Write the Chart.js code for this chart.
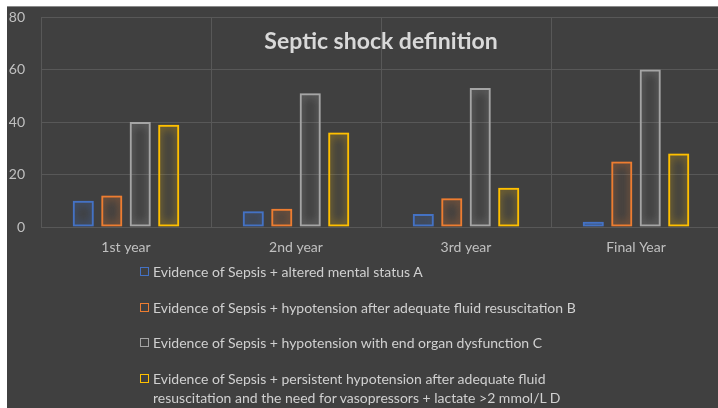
<!DOCTYPE html>
<html><head><meta charset="utf-8">
<script src="https://cdn.jsdelivr.net/npm/chart.js@4/dist/chart.umd.min.js"></script>
<style>
html,body{margin:0;padding:0;background:#fff;overflow:hidden;width:718px;height:408px;}
#bg{position:absolute;left:7px;top:6px;width:720px;height:410px;background:#404040;border-top:1px solid #8a8a8a;box-sizing:border-box;}
#c{position:absolute;left:7px;top:6px;}
#legend{position:absolute;left:140px;top:262px;font-family:Lato,sans-serif;font-size:14px;color:#d0d0d0;}
.item{position:relative;padding-left:13px;line-height:19px;margin-bottom:16.5px;white-space:nowrap;}
.box{position:absolute;left:0;top:5px;width:9px;height:9px;box-sizing:border-box;border:1.5px solid;}
</style></head>
<body>
<div id="bg"></div>
<canvas id="c" width="716" height="402"></canvas>
<div id="legend"></div>
<script>
const categories = ['1st year', '2nd year', '3rd year', 'Final Year'];
const seriesNames = [
  'Evidence of Sepsis + altered mental status A',
  'Evidence of Sepsis + hypotension after adequate fluid resuscitation B',
  'Evidence of Sepsis + hypotension with end organ dysfunction C',
  ['Evidence of Sepsis + persistent hypotension after adequate fluid', 'resuscitation and the need for vasopressors + lactate >2 mmol/L D']
];
const seriesA = [10, 6, 5, 2];
const seriesB = [12, 7, 11, 25];
const seriesC = [40, 51, 53, 60];
const seriesD = [39, 36, 15, 28];
const yTicks = [0, 20, 40, 60, 80];
const colors = ['#4472C4', '#ED7D31', '#A5A5A5', '#FFC000'];
const chartTitle = 'Septic shock definition';

const values = [seriesA, seriesB, seriesC, seriesD];
const datasets = values.map((v, i) => ({
  label: seriesNames[i],
  data: v,
  backgroundColor: 'rgba(0,0,0,0)',
  borderColor: colors[i],
  borderWidth: 2,
  borderSkipped: false,
  barPercentage: 0.74,
  categoryPercentage: 0.67
}));

const glow = {
  id: 'glow',
  beforeDatasetDraw(chart, args) {
    const ctx = chart.ctx;
    ctx.save();
    ctx.shadowColor = colors[args.index];
    ctx.shadowBlur = 10;
  },
  afterDatasetDraw(chart) { chart.ctx.restore(); }
};
const titlePlugin = {
  id: 'insideTitle',
  beforeDatasetsDraw(chart) {
    const ctx = chart.ctx, a = chart.chartArea;
    ctx.save();
    ctx.font = 'bold 23px Lato, sans-serif';
    ctx.fillStyle = '#d9d9d9';
    ctx.textAlign = 'center';
    ctx.textBaseline = 'middle';
    ctx.fillText(chartTitle, (a.left + a.right) / 2, 36);
    ctx.restore();
  }
};

new Chart(document.getElementById('c'), {
  type: 'bar',
  data: { labels: categories, datasets },
  options: {
    responsive: false,
    animation: false,
    layout: { padding: { top: 11, right: 2, left: 0, bottom: 0 } },
    plugins: { legend: { display: false }, title: { display: false }, tooltip: { enabled: false } },
    scales: {
      x: {
        grid: { color: '#585858', drawTicks: false, offset: true },
        border: { display: false },
        ticks: { color: '#c0c0c0', font: { family: 'Lato', size: 14 }, padding: 12 },
        afterFit(s) { s.height = 181; s.paddingLeft = 0; s.paddingRight = 0; s.paddingTop = 0; s.paddingBottom = 0; }
      },
      y: {
        min: 0, max: 80,
        grid: { color: '#585858', drawTicks: false },
        border: { color: '#585858' },
        ticks: { stepSize: 20, color: '#c0c0c0', font: { family: 'Lato', size: 14 }, padding: 16,
          callback: (v) => yTicks.includes(v) ? String(v) : null },
        afterFit(s) { s.width = 34; s.paddingTop = 0; s.paddingBottom = 0; s.paddingLeft = 0; s.paddingRight = 0; }
      }
    }
  },
  plugins: [glow, titlePlugin]
});

const lg = document.getElementById('legend');
seriesNames.forEach((n, i) => {
  const d = document.createElement('div');
  d.className = 'item';
  const b = document.createElement('span');
  b.className = 'box';
  b.style.borderColor = colors[i];
  d.appendChild(b);
  const lines = Array.isArray(n) ? n : [n];
  lines.forEach((l, j) => { if (j) d.appendChild(document.createElement('br')); d.appendChild(document.createTextNode(l)); });
  lg.appendChild(d);
});
</script>
</body></html>
